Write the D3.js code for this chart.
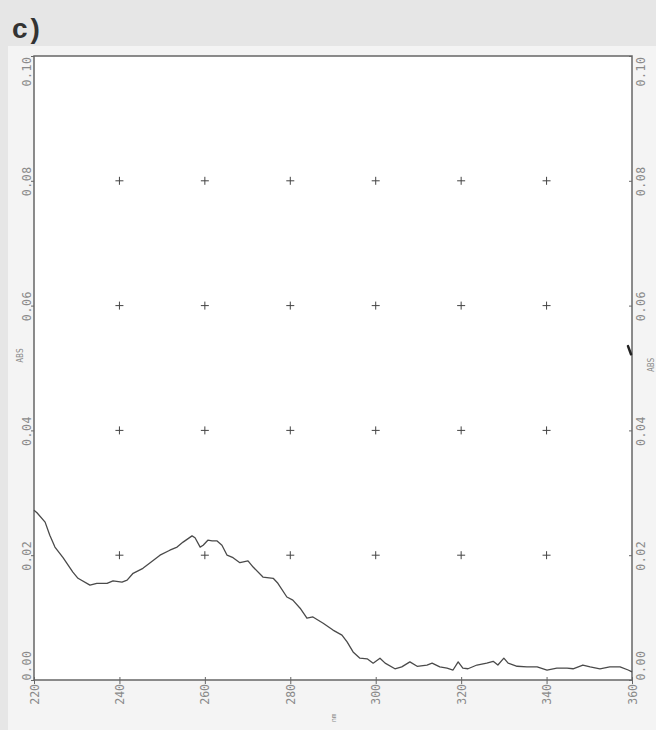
<!DOCTYPE html>
<html>
<head>
<meta charset="utf-8">
<script src="https://cdn.jsdelivr.net/npm/d3@7"></script>
<style>
  body { margin: 0; background: #e9e9e9; }
  svg { display: block; }
</style>
</head>
<body>
<div id="chart"></div>
<script>
const width = 656;
const height = 730;

// wavelength (nm) and absorbance
const wavelength = [220.0, 220.7, 222.6, 223.7, 224.9, 226.8, 229.1, 230.3, 233.1, 234.7,
    237.1, 238.5, 240.6, 241.8, 243.2, 245.5, 247.2, 249.5, 251.8, 253.5,
    254.9, 257.0, 257.7, 258.9, 259.6, 260.7, 261.7, 262.8, 264.0, 265.2,
    266.6, 268.2, 270.1, 271.3, 273.6, 276.0, 277.1, 279.2, 280.6, 282.3,
    283.9, 285.3, 287.7, 290.0, 292.1, 293.3, 294.7, 296.3, 298.0, 299.4,
    301.0, 302.2, 304.5, 306.1, 308.0, 309.7, 312.0, 313.2, 315.0, 316.7,
    318.1, 319.3, 320.4, 321.6, 323.7, 326.0, 327.5, 328.6, 330.0, 331.0,
    333.1, 335.4, 337.8, 340.1, 342.4, 344.8, 346.2, 348.5, 350.2, 352.5,
    354.8, 357.2, 359.1, 360.0];
const absorbance = [0.0272, 0.0268, 0.0253, 0.0232, 0.0213, 0.0196, 0.0173, 0.0163, 0.0152, 0.0155,
    0.0155, 0.0159, 0.0157, 0.0160, 0.0171, 0.0179, 0.0188, 0.0200, 0.0208, 0.0213,
    0.0221, 0.0231, 0.0228, 0.0213, 0.0216, 0.0224, 0.0223, 0.0223, 0.0216, 0.0200,
    0.0196, 0.0188, 0.0191, 0.0181, 0.0165, 0.0163, 0.0155, 0.0133, 0.0128, 0.0115,
    0.0099, 0.0101, 0.0091, 0.0080, 0.0072, 0.0061, 0.0045, 0.0035, 0.0034, 0.0027,
    0.0035, 0.0027, 0.0018, 0.0021, 0.0029, 0.0022, 0.0024, 0.0027, 0.0021, 0.0019,
    0.0016, 0.0029, 0.0019, 0.0018, 0.0024, 0.0027, 0.0030, 0.0024, 0.0035, 0.0027,
    0.0022, 0.0021, 0.0021, 0.0016, 0.0019, 0.0019, 0.0018, 0.0024, 0.0021, 0.0018,
    0.0021, 0.0021, 0.0016, 0.0013];

const xTicks = [220, 240, 260, 280, 300, 320, 340, 360];
const yTicks = [0.00, 0.02, 0.04, 0.06, 0.08, 0.10];
const gridX = [240, 260, 280, 300, 320, 340];
const gridY = [0.02, 0.04, 0.06, 0.08];

const plot = { left: 34, right: 632, top: 56, bottom: 680 };
const lineColor = "#666";
const labelColor = "#8a8a8a";
const labelFont = "'DejaVu Sans Mono', monospace";

const svg = d3.select("#chart").append("svg").attr("width", width).attr("height", height);

// scanned page background
svg.append("rect").attr("width", width).attr("height", height).attr("fill", "#e6e6e6");
svg.append("rect").attr("x", 8).attr("y", 46).attr("width", width - 8).attr("height", height - 46)
    .attr("fill", "#f4f4f4");

const x = d3.scaleLinear().domain([220, 360]).range([plot.left, plot.right]);
const y = d3.scaleLinear().domain([0, 0.10]).range([plot.bottom, plot.top]);

svg.append("rect")
    .attr("x", plot.left).attr("y", plot.top)
    .attr("width", plot.right - plot.left).attr("height", plot.bottom - plot.top)
    .attr("fill", "#fff").attr("stroke", lineColor).attr("stroke-width", 1.5);

svg.append("text").attr("x", 12).attr("y", 38)
    .attr("font-family", "'Liberation Sans', sans-serif").attr("font-size", 28)
    .attr("font-weight", "bold").attr("letter-spacing", 3).attr("fill", "#333")
    .text("c)");

// + markers on the grid
const crosses = [];
gridX.forEach(gx => gridY.forEach(gy => crosses.push([gx, gy])));
svg.append("g").selectAll("path")
    .data(crosses)
    .enter()
    .append("path")
    .attr("d", d => `M${x(d[0]) - 4},${y(d[1])}h8M${x(d[0])},${y(d[1]) - 4}v8`)
    .attr("stroke", "#444").attr("stroke-width", 1);

function styleAxis(g) {
    g.select(".domain").remove();
    g.selectAll(".tick line").attr("stroke", lineColor).attr("stroke-width", 1);
    g.selectAll(".tick text")
        .attr("fill", labelColor)
        .attr("font-family", labelFont)
        .attr("font-size", 11.5);
}

// bottom axis, labels turned on their side
const xAxis = svg.append("g")
    .attr("transform", `translate(0,${plot.bottom})`)
    .call(d3.axisBottom(x).tickValues(xTicks).tickFormat(d3.format("d")).tickSize(4))
    .call(styleAxis);
xAxis.selectAll(".tick line").attr("y1", -3).attr("y2", 4);
xAxis.selectAll(".tick text")
    .attr("transform", "rotate(-90)")
    .attr("x", -4).attr("y", 0).attr("dy", "0.35em")
    .attr("text-anchor", "end");

function yLabels(g, offset) {
    g.selectAll(".tick text")
        .attr("transform", "rotate(-90)")
        .attr("x", 0).attr("y", offset).attr("dy", 0)
        .attr("letter-spacing", 0.6)
        .attr("text-anchor", d => d === 0.10 ? "end" : (d === 0 ? "start" : "middle"));
}

svg.append("g")
    .attr("transform", `translate(${plot.left},0)`)
    .call(d3.axisLeft(y).tickValues(yTicks).tickFormat(d3.format(".2f")).tickSize(3))
    .call(styleAxis)
    .call(g => yLabels(g, -3));

svg.append("g")
    .attr("transform", `translate(${plot.right},0)`)
    .call(d3.axisRight(y).tickValues(yTicks).tickFormat(d3.format(".2f")).tickSize(-3))
    .call(styleAxis)
    .call(g => yLabels(g, 13));

// axis titles
svg.append("text")
    .attr("transform", `translate(${x(290) + 3},${plot.bottom + 38}) rotate(-90)`)
    .attr("text-anchor", "middle")
    .attr("font-family", labelFont).attr("font-size", 7).attr("fill", labelColor)
    .text("nm");
svg.append("text")
    .attr("transform", `translate(${plot.left - 11},${y(0.052)}) rotate(-90)`)
    .attr("text-anchor", "middle")
    .attr("font-family", labelFont).attr("font-size", 8).attr("fill", labelColor)
    .text("ABS");
svg.append("text")
    .attr("transform", `translate(${plot.right + 22},${y(0.0505)}) rotate(-90)`)
    .attr("text-anchor", "middle")
    .attr("font-family", labelFont).attr("font-size", 8).attr("fill", labelColor)
    .text("ABS");

// pen mark on the right axis
svg.append("path")
    .attr("d", `M${x(360) - 4},${y(0.0535)}L${x(360) - 1},${y(0.0522)}`)
    .attr("stroke", "#222").attr("stroke-width", 2.5).attr("stroke-linecap", "round");

// spectrum trace
const line = d3.line()
    .x((d, i) => x(wavelength[i]))
    .y(d => y(d));

svg.append("path")
    .datum(absorbance)
    .attr("d", line)
    .attr("fill", "none")
    .attr("stroke", "#4a4a4a")
    .attr("stroke-width", 1.3)
    .attr("stroke-linejoin", "round");
</script>
</body>
</html>
